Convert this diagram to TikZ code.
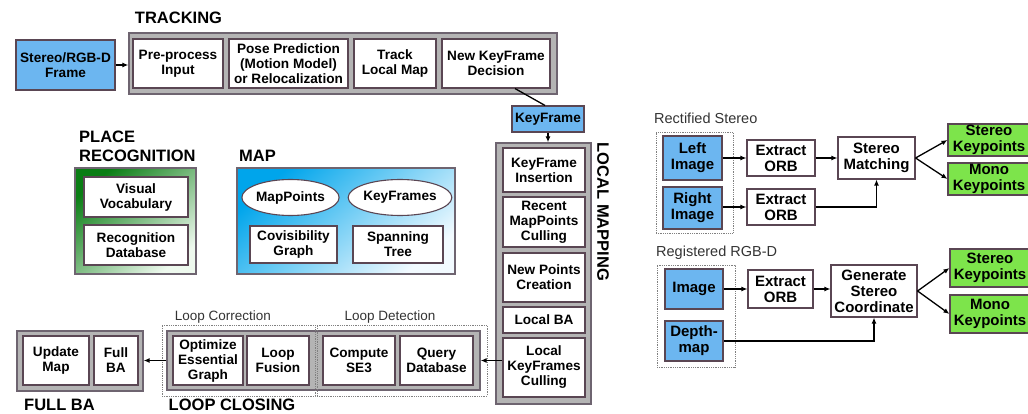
\documentclass[tikz,border=0pt]{standalone}
\usepackage{fontspec}
\setmainfont{Liberation Sans}
\usetikzlibrary{arrows.meta,positioning,shapes.geometric}
\definecolor{boxline}{RGB}{90,70,83}
\definecolor{grouptint}{RGB}{180,180,180}
\definecolor{groupline}{RGB}{110,100,112}
\definecolor{framefill}{RGB}{108,182,240}
\definecolor{keyptfill}{RGB}{125,228,75}
\definecolor{placedark}{RGB}{10,125,20}
\definecolor{placelight}{RGB}{238,249,238}
\definecolor{mapdark}{RGB}{0,165,235}
\definecolor{maplight}{RGB}{242,250,255}
\begin{document}
\begin{tikzpicture}[x=1pt,y=-1pt,>={Latex[length=6pt,width=5pt]},
  font=\fontsize{13.6}{15}\selectfont\bfseries,
  stage/.style={draw=boxline,line width=1.1pt,fill=white,inner sep=0pt,align=center},
  rstage/.style={stage,font=\fontsize{15}{16}\selectfont\bfseries},
  group/.style={draw=groupline,line width=1.4pt,fill=grouptint,inner sep=0pt},
  zone/.style={draw=gray,densely dotted,line width=0.8pt,inner sep=0pt},
  title/.style={font=\fontsize{16.5}{19}\selectfont\bfseries,inner sep=0pt,align=left},
  caption/.style={font=\fontsize{13.5}{15}\selectfont,text=black!80,inner sep=0pt},
  flow/.style={->,line width=1.3pt}]
\useasboundingbox (0,0) rectangle (1028,414);
% tracking
\node[title] (trktitle) at (178.5,18) {TRACKING};
\node[stage,fill=framefill,minimum width=99pt,minimum height=50pt] (frame) at (65.5,65) {Stereo/RGB-D\\Frame};
\node[group,minimum width=428pt,minimum height=61pt] (trk) at (343,63.5) {};
\node[stage,minimum width=90pt,minimum height=49pt] (pre) at (178,63.5) {Pre-process\\Input};
\node[stage,minimum width=119pt,minimum height=49pt] (pose) at (288.5,63.5) {Pose Prediction\\(Motion Model)\\or Relocalization};
\node[stage,minimum width=82pt,minimum height=49pt] (tlm) at (395,63.5) {Track\\Local Map};
\node[stage,minimum width=108pt,minimum height=49pt] (nkd) at (496,63.5) {New KeyFrame\\Decision};
\node[stage,fill=framefill,minimum width=72pt,minimum height=26pt] (kf) at (548,119) {KeyFrame};
\draw[flow] (frame.east) -- (frame.east -| trk.west);
\draw[line width=1.3pt] ([xshift=19pt]nkd.south) -- ([xshift=-3pt]kf.north);
% local mapping
\node[group,minimum width=95pt,minimum height=261pt] (lm) at (543.5,273.5) {};
\node[title,rotate=-90] (lmtitle) at (603,212) {LOCAL MAPPING};
\node[stage,minimum width=82pt,minimum height=44pt] (kfi) at (544,170) {KeyFrame\\Insertion};
\node[stage,minimum width=82pt,minimum height=50pt] (rmc) at (544,222) {Recent\\MapPoints\\Culling};
\node[stage,minimum width=82pt,minimum height=49pt] (npc) at (544,277.5) {New Points\\Creation};
\node[stage,minimum width=82pt,minimum height=26pt] (lba) at (544,320) {Local BA};
\node[stage,minimum width=82pt,minimum height=59pt] (lkc) at (544,367.5) {Local\\KeyFrames\\Culling};
\draw[flow] (kf.south) -- (kf.south |- lm.north);
% place recognition and map
\node[title,anchor=west] (prtitle) at (79,146.5) {PLACE\\RECOGNITION};
\node[draw=groupline,line width=1.2pt,top color=placedark,bottom color=placelight,shading angle=40,minimum width=121pt,minimum height=106pt] (pr) at (135.5,221) {};
\node[stage,minimum width=104pt,minimum height=40pt] (vv) at (136,197) {Visual\\Vocabulary};
\node[stage,minimum width=104pt,minimum height=40pt] (rdb) at (136,245) {Recognition\\Database};
\node[title,anchor=west] (maptitle) at (239,156) {MAP};
\node[draw=groupline,line width=1.2pt,top color=mapdark,bottom color=maplight,shading angle=40,minimum width=218pt,minimum height=106pt] (map) at (346,221) {};
\node[stage,ellipse,minimum width=96pt,minimum height=36pt] (mp) at (290.5,197.5) {MapPoints};
\node[stage,ellipse,minimum width=95pt,minimum height=36pt] (kfs) at (400,197.5) {KeyFrames};
\node[stage,minimum width=87pt,minimum height=37pt] (cvg) at (293.5,244.5) {Covisibility\\Graph};
\node[stage,minimum width=90pt,minimum height=37pt] (spt) at (398,244.5) {Spanning\\Tree};
% loop closing
\node[group,minimum width=313pt,minimum height=59pt] (lc) at (323.5,360.5) {};
\node[zone,minimum width=153pt,minimum height=71pt] (lcor) at (238.5,360.5) {};
\node[zone,minimum width=170pt,minimum height=71pt] (ldet) at (402,360.5) {};
\node[caption] (lcortitle) at (223,317) {Loop Correction};
\node[caption] (ldettitle) at (390,317) {Loop Detection};
\node[stage,minimum width=70pt,minimum height=49pt] (oeg) at (208,360.5) {Optimize\\Essential\\Graph};
\node[stage,minimum width=62pt,minimum height=49pt] (lfu) at (278,360.5) {Loop\\Fusion};
\node[stage,minimum width=72pt,minimum height=49pt] (cse) at (359,360.5) {Compute\\SE3};
\node[stage,minimum width=73pt,minimum height=49pt] (qdb) at (436.5,360.5) {Query\\Database};
\node[title] (lctitle) at (232,404.5) {LOOP CLOSING};
\draw[flow] (lc.east -| lkc.west) -- (lc.east);
% full BA
\node[group,minimum width=126pt,minimum height=60pt] (fbag) at (80,361) {};
\node[stage,minimum width=66pt,minimum height=49pt] (upm) at (56,360.5) {Update\\Map};
\node[stage,minimum width=44pt,minimum height=49pt] (fba) at (116,360.5) {Full\\BA};
\node[title,anchor=west] (fbatitle) at (24,404.5) {FULL BA};
\draw[flow] (lc.west) -- (lc.west -| fbag.east);
% rectified stereo
\node[caption,anchor=west,font=\fontsize{14.5}{16}\selectfont] (rstitle) at (654,118) {Rectified Stereo};
\node[zone,minimum width=77pt,minimum height=101pt] (rs) at (694.5,182.5) {};
\node[rstage,fill=framefill,minimum width=59pt,minimum height=44pt] (limg) at (692.5,158) {Left\\Image};
\node[rstage,fill=framefill,minimum width=59pt,minimum height=42pt] (rimg) at (692.5,208) {Right\\Image};
\node[rstage,minimum width=68pt,minimum height=36pt] (eorba) at (781,158) {Extract\\ORB};
\node[rstage,minimum width=68pt,minimum height=36pt] (eorbb) at (781,207) {Extract\\ORB};
\node[rstage,minimum width=77pt,minimum height=42pt] (sm) at (876.5,158) {Stereo\\Matching};
\node[rstage,fill=keyptfill,minimum width=82pt,minimum height=32pt] (skpa) at (989,140) {Stereo\\Keypoints};
\node[rstage,fill=keyptfill,minimum width=82pt,minimum height=32pt] (mkpa) at (989,179) {Mono\\Keypoints};
\draw[flow] (limg) -- (eorba);
\draw[flow] (rimg.east |- eorbb) -- (eorbb);
\draw[flow] (eorba) -- (sm);
\draw[flow] (eorbb.east) -| (sm.south);
\draw[flow] (sm.east) -- (skpa.west);
\draw[flow] (sm.east) -- (mkpa.west);
% registered RGB-D
\node[caption,anchor=west,font=\fontsize{14.5}{16}\selectfont] (rgbtitle) at (656,253) {Registered RGB-D};
\node[zone,minimum width=78pt,minimum height=102pt] (rgb) at (696,316) {};
\node[rstage,fill=framefill,minimum width=58pt,minimum height=40pt] (img) at (694,289) {Image};
\node[rstage,fill=framefill,minimum width=58pt,minimum height=40pt] (dmap) at (694,341) {Depth-\\map};
\node[rstage,minimum width=65pt,minimum height=38pt] (eorbc) at (780.5,289) {Extract\\ORB};
\node[rstage,minimum width=86pt,minimum height=52pt] (gsc) at (874,291) {Generate\\Stereo\\Coordinate};
\node[rstage,fill=keyptfill,minimum width=80pt,minimum height=38pt] (skpb) at (990,268) {Stereo\\Keypoints};
\node[rstage,fill=keyptfill,minimum width=80pt,minimum height=38pt] (mkpb) at (990,314) {Mono\\Keypoints};
\draw[flow] (img) -- (eorbc);
\draw[flow] (eorbc.east) -- (eorbc.east -| gsc.west);
\draw[flow] (dmap.east) -| (gsc.south);
\draw[flow] (gsc.east) -- (skpb.west);
\draw[flow] (gsc.east) -- (mkpb.west);
\end{tikzpicture}
\end{document}
